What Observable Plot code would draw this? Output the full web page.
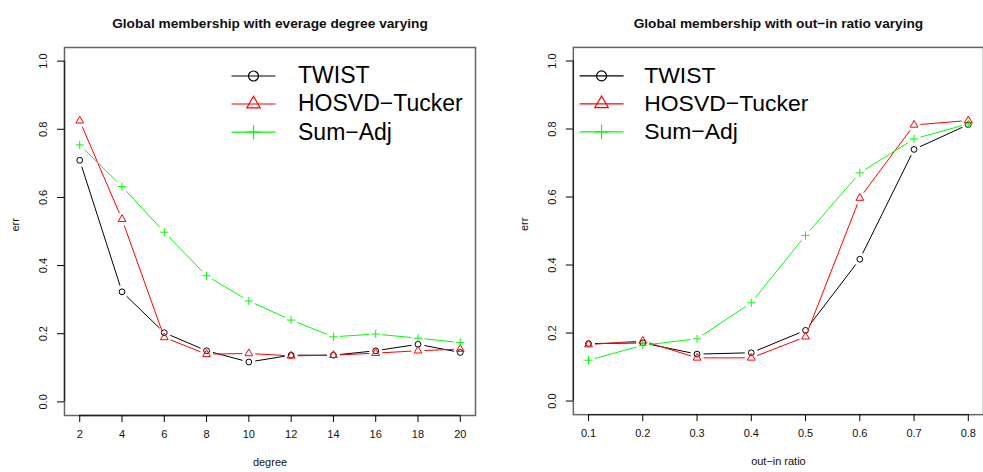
<!DOCTYPE html>
<html><head><meta charset="utf-8">
<script src="https://cdn.jsdelivr.net/npm/d3@7"></script>
<script src="https://cdn.jsdelivr.net/npm/@observablehq/plot@0.6"></script>
<style>
body{margin:0;overflow:hidden;background:#fff;font-family:"Liberation Sans",Arial,sans-serif}
#c{position:relative;width:983px;height:472px;overflow:hidden}
.p{position:absolute;top:0}
</style></head>
<body><div id="c"><div class="p" id="a" style="left:0"></div><div class="p" id="b" style="left:490px"></div></div>
<script>
// ---- data ----
const methods = ["TWIST", "HOSVD\u2212Tucker", "Sum\u2212Adj"];
const colors = ["#000000", "#FF0000", "#00FF00"];

const degree = [2, 4, 6, 8, 10, 12, 14, 16, 18, 20];
const degTwist  = [0.709, 0.323, 0.203, 0.150, 0.117, 0.137, 0.137, 0.150, 0.169, 0.145];
const degHosvd  = [0.825, 0.536, 0.189, 0.140, 0.142, 0.135, 0.137, 0.143, 0.150, 0.155];
const degSumAdj = [0.754, 0.632, 0.498, 0.370, 0.296, 0.240, 0.191, 0.199, 0.187, 0.174];

const ratio = [0.1, 0.2, 0.3, 0.4, 0.5, 0.6, 0.7, 0.8];
const ratTwist  = [0.169, 0.171, 0.138, 0.142, 0.208, 0.417, 0.740, 0.813];
const ratHosvd  = [0.166, 0.177, 0.127, 0.127, 0.189, 0.597, 0.812, 0.825];
const ratSumAdj = [0.120, 0.164, 0.183, 0.289, 0.487, 0.671, 0.771, 0.815];

const yTicks = [0, 0.2, 0.4, 0.6, 0.8, 1.0];
const degreeTicks = [2, 4, 6, 8, 10, 12, 14, 16, 18, 20];
const ratioTicks = [0.1, 0.2, 0.3, 0.4, 0.5, 0.6, 0.7, 0.8];

const titles = ["Global membership with everage degree varying", "Global membership with out\u2212in ratio varying"];
const xLabels = ["degree", "out\u2212in ratio"];
const yLabel = "err";

// ---- R-style symbols ----
const pchCircle = "circle";
const pchTriangle = {draw(ctx, size) {
  const r = Math.sqrt(size / Math.PI);
  const t0 = 1.5551 * r, xc = 1.3468 * r, yc = 0.7776 * r;
  ctx.moveTo(0, -t0); ctx.lineTo(xc, yc); ctx.lineTo(-xc, yc); ctx.closePath();
}};
const pchPlus = {draw(ctx, size) {
  const h = 1.4142 * Math.sqrt(size / Math.PI);
  ctx.moveTo(-h, 0); ctx.lineTo(h, 0); ctx.moveTo(0, -h); ctx.lineTo(0, h);
}};
const legendLine = {draw(ctx) { ctx.moveTo(-22, 0); ctx.lineTo(22, 0); }};
const symbols = [pchCircle, pchTriangle, pchPlus];

function extend(arr) {
  const lo = d3.min(arr), hi = d3.max(arr), e = (hi - lo) * 0.04;
  return [lo - e, hi + e];
}

function panel({xs, series, xTicks, xFmt, title, xLabel, width, marginLeft, marginRight, legendDx, textDx}) {
  const marks = [];
  const yDomain = extend(yTicks);
  const xDomain = extend(xs);
  marks.push(Plot.frame({stroke: "#666", strokeWidth: 1.5}));
  marks.push(Plot.ruleX([xDomain[0]], {y1: yTicks[0], y2: yTicks[yTicks.length - 1], stroke: "#222", strokeWidth: 1.3}));
  marks.push(Plot.ruleY([yDomain[0]], {x1: xTicks[0], x2: xTicks[xTicks.length - 1], stroke: "#222", strokeWidth: 1.3}));
  marks.push(Plot.axisX({ticks: xTicks, tickSize: 7, tickFormat: () => "", label: null, anchor: "bottom"}));
  marks.push(Plot.axisY({ticks: yTicks, tickSize: 7, tickFormat: () => "", label: null, anchor: "left"}));
  marks.push(Plot.text(xTicks, {x: d => d, frameAnchor: "bottom", dy: 22, text: d => xFmt(d), fontSize: 11, fill: "#111"}));
  marks.push(Plot.text(yTicks, {y: d => d, frameAnchor: "left", dx: -21, rotate: -90, text: d => d3.format(".1f")(d), textAnchor: "middle", lineAnchor: "middle", fontSize: 11, fill: "#111"}));
  marks.push(Plot.text([title], {frameAnchor: "top", dy: -29, fontWeight: "bold", fontSize: 13.7, fill: "#111"}));
  marks.push(Plot.text([xLabel], {frameAnchor: "bottom", dy: 50, fontSize: 11, fill: "#111"}));
  marks.push(Plot.text([yLabel], {frameAnchor: "left", dx: -49, rotate: -90, fontSize: 11, fill: "#111"}));

  series.forEach((ys, k) => {
    const pts = xs.map((x, i) => ({x, y: ys[i]}));
    const segs = d3.pairs(pts);
    marks.push(Plot.arrow(segs, {
      x1: d => d[0].x, y1: d => d[0].y, x2: d => d[1].x, y2: d => d[1].y,
      stroke: colors[k], strokeWidth: 1, headLength: 0, inset: 6.5, bend: 0, strokeLinecap: "butt"
    }));
    marks.push(Plot.dot(pts, {x: "x", y: "y", r: 2.9, symbol: symbols[k], stroke: colors[k], fill: "none", strokeWidth: 1}));
  });

  // legend
  const rowDy = [28.5, 56.5, 84.7];
  methods.forEach((m, k) => {
    marks.push(Plot.dot([m], {frameAnchor: "top-left", dx: legendDx, dy: rowDy[k], symbol: legendLine, r: 1, stroke: colors[k], strokeWidth: 1.2}));
    marks.push(Plot.dot([m], {frameAnchor: "top-left", dx: legendDx, dy: rowDy[k], symbol: symbols[k], r: 5, stroke: colors[k], fill: "none", strokeWidth: 1.2}));
    marks.push(Plot.text([m], {frameAnchor: "top-left", dx: textDx, dy: rowDy[k], text: d => d, fontSize: 23, textAnchor: "start", lineAnchor: "middle", fill: "#000"}));
  });

  return Plot.plot({
    width, height: 472,
    marginLeft, marginRight, marginTop: 47, marginBottom: 57,
    x: {domain: xDomain},
    y: {domain: yDomain},
    style: {fontFamily: "'Liberation Sans', Arial, sans-serif", background: "#fff", overflow: "visible"},
    marks
  });
}

document.getElementById("a").append(panel({
  xs: degree, series: [degTwist, degHosvd, degSumAdj], xTicks: degreeTicks, xFmt: d3.format("d"),
  title: titles[0], xLabel: xLabels[0], width: 490, marginLeft: 64, marginRight: 15, legendDx: 189, textDx: 233.5
}));
document.getElementById("b").append(panel({
  xs: ratio, series: [ratTwist, ratHosvd, ratSumAdj], xTicks: ratioTicks, xFmt: d3.format(".1f"),
  title: titles[1], xLabel: xLabels[1], width: 494, marginLeft: 83, marginRight: 0, legendDx: 28.3, textDx: 71
}));
</script>
</body></html>
